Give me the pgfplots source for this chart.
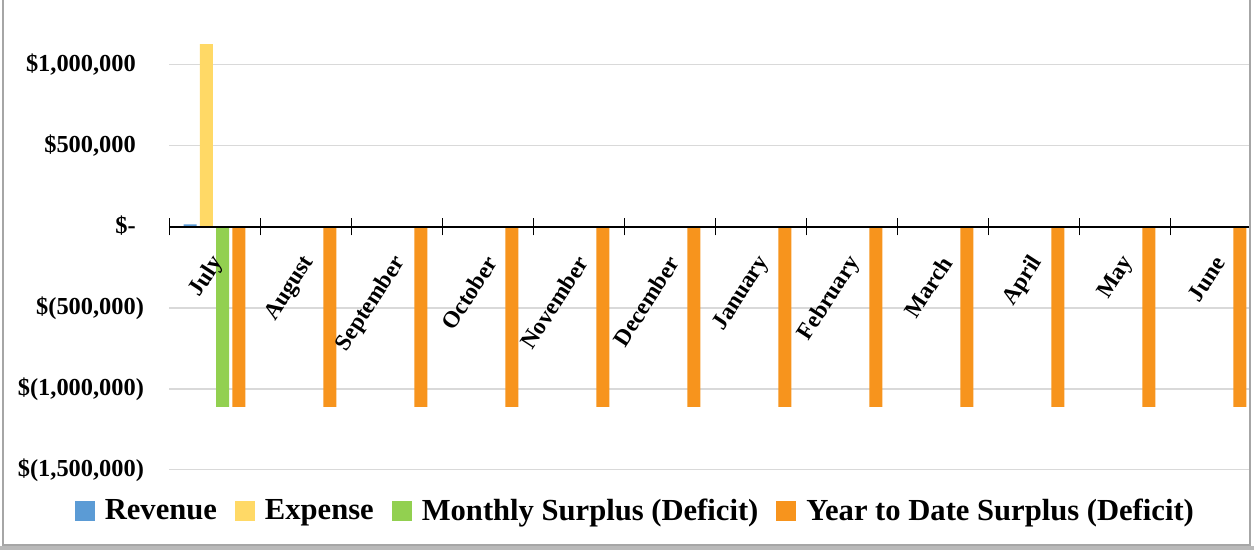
\documentclass[border=0pt]{standalone}
\usepackage{pgfplots}
\usepackage{pgfplotstable}
\pgfplotsset{compat=1.18}
\usepackage{fontspec}
\setmainfont{Liberation Serif}

\definecolor{revc}{HTML}{5B9BD5}
\definecolor{expc}{HTML}{FFD966}
\definecolor{monc}{HTML}{92D050}
\definecolor{ytdc}{HTML}{F7941D}
\definecolor{gridc}{HTML}{D9D9D9}

% month index, revenue, expense, monthly surplus, year to date surplus
\pgfplotstableread{
m rev exp mon ytd
0 16000 1127000 -1111000 -1111000
1 0 0 0 -1111000
2 0 0 0 -1111000
3 0 0 0 -1111000
4 0 0 0 -1111000
5 0 0 0 -1111000
6 0 0 0 -1111000
7 0 0 0 -1111000
8 0 0 0 -1111000
9 0 0 0 -1111000
10 0 0 0 -1111000
11 0 0 0 -1111000
}\budget

\begin{document}
\begin{tikzpicture}[x=1pt,y=1pt]
\useasboundingbox (0,0) rectangle (627,275);
\fill[white] (0,0) rectangle (627,275);
\begin{axis}[
  axis on top,
  at={(84.5pt,40pt)}, anchor=south west,
  scale only axis, width=546pt, height=235pt,
  xmin=-0.5, xmax=11.5, ymin=-1500000, ymax=1400000,
  axis x line=middle, axis y line=left,
  axis line style={-},
  x axis line style={black, line width=1.2pt},
  y axis line style={draw=none},
  hide obscured x ticks=false,
  ybar=1.65pt, bar width=6.5pt,
  xtick={0,...,11},
  xticklabels={July,August,September,October,November,December,January,February,March,April,May,June},
  major tick length=0pt,
  extra x ticks={-0.5,0.5,1.5,2.5,3.5,4.5,5.5,6.5,7.5,8.5,9.5,10.5,11.5},
  extra x tick labels={},
  extra x tick style={major tick length=8.5pt, tick align=center,
    major tick style={black, line width=0.5pt}},
  ytick={-1500000,-1000000,-500000,0,500000,1000000},
  yticklabels={{\$(1,500,000)},{\$(1,000,000)},{\$(500,000)},{\$-\phantom{)}},{\$500,000\phantom{)}},{\$1,000,000\phantom{)}}},
  ytick style={draw=none},
  yticklabel style={anchor=east, xshift=-9pt, font=\bfseries\fontsize{12.2}{14}\selectfont},
  xticklabel style={anchor=east, xshift=4pt, yshift=-13pt, rotate=57,
    font=\bfseries\fontsize{11.7}{14}\selectfont},
  legend columns=4,
  legend style={at={(0.428,-0.087)}, anchor=center, draw=none, fill=none,
    font=\bfseries\fontsize{15.3}{18}\selectfont,
    /tikz/every even column/.append style={column sep=7pt}},
  legend image code/.code={\fill[#1] (0pt,-5pt) rectangle (10pt,5pt); \path (13pt,0pt);},
]
% horizontal gridlines, behind the bars
\foreach \g in {-1500000,-1000000,-500000,500000,1000000}{
  \edef\tmp{\noexpand\draw[gridc, line width=0.6pt] (axis cs:-0.5,\g) -- (axis cs:11.5,\g);}\tmp
}
\addplot[fill=revc, draw=none] table[x=m, y=rev] {\budget};
\addlegendentry{Revenue}
\addplot[fill=expc, draw=none] table[x=m, y=exp] {\budget};
\addlegendentry{Expense}
\addplot[fill=monc, draw=none] table[x=m, y=mon] {\budget};
\addlegendentry{Monthly Surplus (Deficit)}
\addplot[fill=ytdc, draw=none] table[x=m, y=ytd] {\budget};
\addlegendentry{Year to Date Surplus (Deficit)}
\end{axis}
\fill[white] (625,0) rectangle (627,275);
\draw[gray!70, line width=0.8pt] (1.5,275) -- (1.5,2.5) -- (625,2.5) -- (625,275);
\fill[gray!55] (0,0) rectangle (627,2);
\end{tikzpicture}
\end{document}
